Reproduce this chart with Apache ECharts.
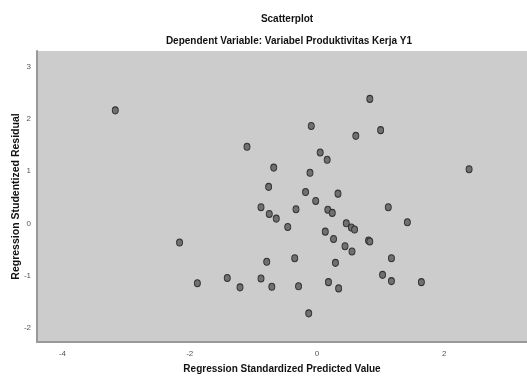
<!DOCTYPE html>
<html>
<head>
    <meta charset="utf-8">
    <title>Scatterplot</title>
    <script src="https://cdn.jsdelivr.net/npm/echarts@6/dist/echarts.min.js"></script>
    <style>
        body { margin: 0; background: #fff; }
        #main { width: 527px; height: 380px; }
    </style>
</head>
<body>
<div id="main"></div>
<script>
    // data
    var predicted = [-3.17, -1.10, -0.68, -0.76, -0.88, -0.33, 0.83, -0.09, 0.61, 1.00,
        0.05, 0.16, -0.11, 2.39, -0.18, 0.33, -0.02, 0.17, 0.24, 1.12,
        1.42, -0.46, 0.46, 0.54, 0.59, 0.13, 0.26, 0.81, 0.83, 0.44,
        0.55, -0.35, 0.29, 1.17, 1.03, 1.17, 1.64, 0.18, -0.29, 0.34,
        -0.13, -0.75, -0.64, -2.16, -0.79, -1.88, -1.41, -1.21, -0.88, -0.71];
    var residual = [2.17, 1.47, 1.07, 0.70, 0.31, 0.27, 2.39, 1.87, 1.68, 1.79,
        1.36, 1.22, 0.97, 1.04, 0.60, 0.57, 0.43, 0.26, 0.20, 0.31,
        0.02, -0.07, 0.00, -0.08, -0.12, -0.16, -0.30, -0.33, -0.35, -0.44,
        -0.54, -0.67, -0.76, -0.67, -0.99, -1.11, -1.13, -1.13, -1.21, -1.25,
        -1.73, 0.18, 0.09, -0.37, -0.74, -1.15, -1.05, -1.23, -1.06, -1.22];
    var xTicks = [-4, -2, 0, 2];
    var yTicks = [-2, -1, 0, 1, 2, 3];

    var points = [];
    for (var i = 0; i < predicted.length; i++) {
        points.push([predicted[i], residual[i]]);
    }

    var myChart = echarts.init(document.getElementById('main'));
    var option = {
        animation: false,
        textStyle: {fontFamily: 'Liberation Sans, Arial, sans-serif'},
        title: [{
            text: 'Scatterplot',
            left: 282, top: 9, textAlign: 'center',
            textStyle: {fontSize: 10, fontWeight: 'bold', color: '#111'}
        }, {
            text: 'Dependent Variable: Variabel Produktivitas Kerja Y1',
            left: 284, top: 31, textAlign: 'center',
            textStyle: {fontSize: 10, fontWeight: 'bold', color: '#111'}
        }],
        grid: {
            left: 37, right: 0, top: 51, bottom: 38,
            outerBoundsMode: 'none', containLabel: false,
            backgroundColor: '#cccccc', show: true, borderWidth: 0
        },
        xAxis: {
            type: 'value', min: -4.4, max: 3.3,
            name: 'Regression Standardized Predicted Value',
            nameLocation: 'middle', nameGap: 22, nameMoveOverlap: false,
            nameTextStyle: {fontSize: 10, fontWeight: 'bold', color: '#111'},
            splitLine: {show: false},
            axisLine: {show: true, onZero: false, lineStyle: {color: '#999', width: 2}},
            axisTick: {show: false},
            axisLabel: {customValues: xTicks, fontSize: 8, color: '#555', margin: 8}
        },
        yAxis: {
            type: 'value', min: -2.28, max: 3.31,
            name: 'Regression Studentized Residual',
            nameLocation: 'middle', nameGap: 15, nameMoveOverlap: false,
            nameTextStyle: {fontSize: 10.5, fontWeight: 'bold', color: '#111'},
            splitLine: {show: false},
            axisLine: {show: true, onZero: false, lineStyle: {color: '#999', width: 2}},
            axisTick: {show: false},
            axisLabel: {customValues: yTicks, fontSize: 8, color: '#555', margin: 6}
        },
        series: [{
            type: 'scatter',
            data: points,
            symbol: 'circle',
            symbolSize: [6, 7],
            itemStyle: {color: '#707070', borderColor: '#333', borderWidth: 1, opacity: 1}
        }]
    };
    myChart.setOption(option);
</script>
</body>
</html>
